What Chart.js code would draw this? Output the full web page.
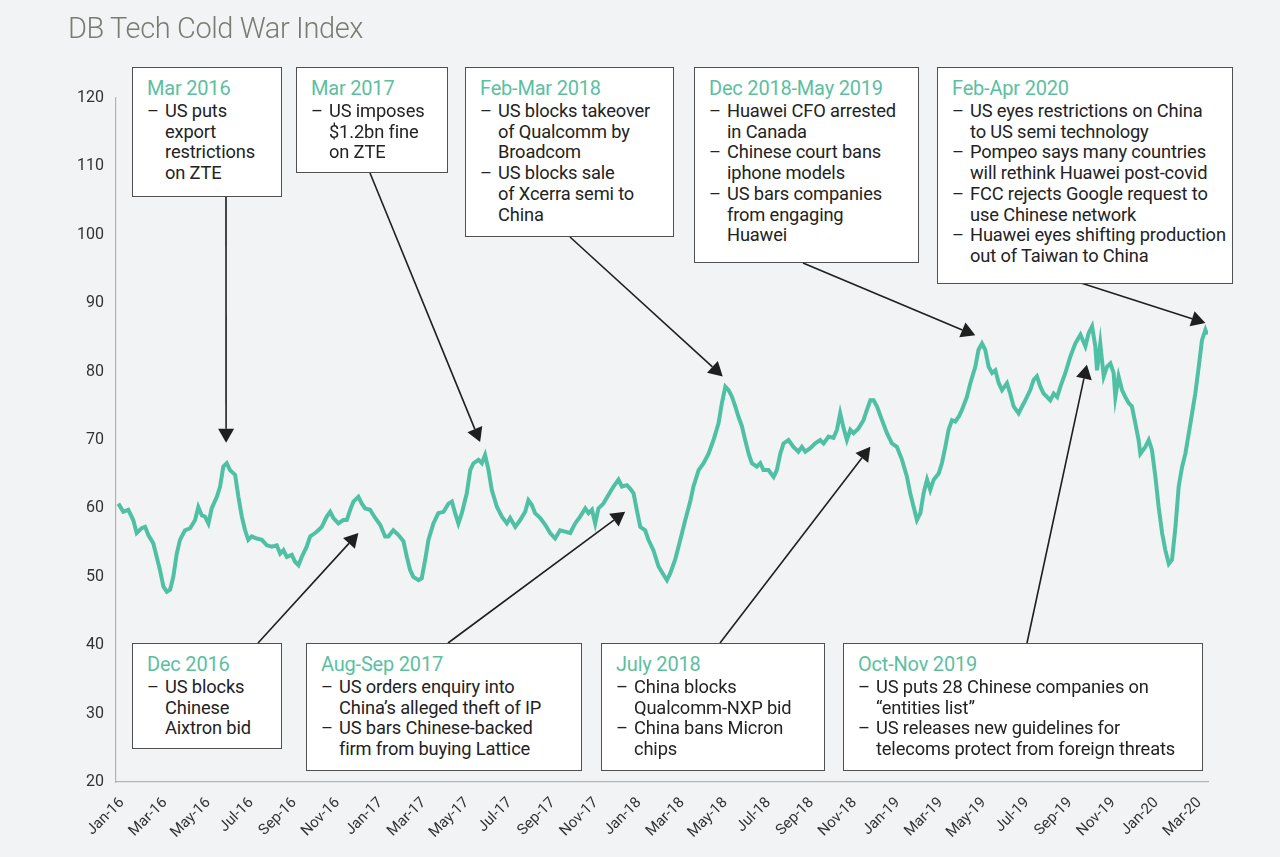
<!DOCTYPE html>
<html>
<head>
<meta charset="utf-8">
<script src="https://cdn.jsdelivr.net/npm/chart.js@4.4.1/dist/chart.umd.min.js"></script>
<style>
html, body { margin: 0; padding: 0; background: #f2f3f4; }
#wrap { position: relative; width: 1280px; height: 857px; overflow: hidden; font-family: Roboto, 'Liberation Sans', sans-serif; }
#title { position: absolute; left: 68px; top: 11px; font-size: 29px; color: #7b7b73; font-weight: 300; letter-spacing: -0.4px; }
canvas { position: absolute; left: 0; top: 0; }
.note { position: absolute; box-sizing: border-box; background: #fff; border: 1.5px solid #505050; padding: 9px 6px 0 14px; }
.note h4 { margin: 0 0 2px 0; font-weight: 400; font-size: 20px; line-height: 22px; color: #5cbf9f; white-space: nowrap; letter-spacing: -0.2px; }
.note p { margin: 0; position: relative; padding-left: 18px; font-size: 18.3px; line-height: 20.7px; color: #232323; white-space: nowrap; letter-spacing: -0.15px; }
.note p::before { content: '–'; position: absolute; left: 0; }
</style>
</head>
<body>
<div id="wrap">
  <canvas id="warChart" width="1280" height="857"></canvas>
  <div id="title">DB Tech Cold War Index</div>
</div>
<script>
// ── DATA ── (x = months since Jan 2016)
const months = [
  -0.17, 0.06, 0.29, 0.52, 0.68, 0.91, 1.07, 1.22, 1.45, 1.61, 1.76, 1.92, 2.08, 2.23, 2.38, 2.54, 2.69, 2.92,
  3.16, 3.39, 3.54, 3.70, 3.85, 4.01, 4.16, 4.40, 4.55, 4.70, 4.86, 5.01, 5.25, 5.40, 5.56, 5.71, 5.86, 6.02,
  6.25, 6.49, 6.72, 6.95, 7.18, 7.34, 7.49, 7.65, 7.88, 8.03, 8.19, 8.34, 8.57, 8.73, 8.96, 9.11, 9.27, 9.50,
  9.66, 9.81, 10.04, 10.27, 10.43, 10.59, 10.74, 10.97, 11.13, 11.28, 11.51, 11.75, 11.98, 12.21, 12.36, 12.59,
  12.83, 13.06, 13.22, 13.37, 13.52, 13.76, 13.91, 14.07, 14.22, 14.45, 14.68, 14.92, 15.15, 15.31, 15.46, 15.61,
  15.77, 16.00, 16.16, 16.31, 16.54, 16.70, 16.85, 17.01, 17.16, 17.40, 17.63, 17.86, 18.01, 18.25, 18.48, 18.71,
  18.86, 19.02, 19.17, 19.41, 19.64, 19.87, 20.10, 20.33, 20.57, 20.80, 21.03, 21.26, 21.50, 21.65, 21.81, 21.96,
  22.11, 22.34, 22.58, 22.81, 23.04, 23.20, 23.43, 23.58, 23.74, 23.89, 24.05, 24.28, 24.43, 24.66, 24.90, 25.13,
  25.29, 25.44, 25.67, 25.91, 26.14, 26.37, 26.52, 26.76, 26.99, 27.22, 27.45, 27.68, 27.84, 28.00, 28.15, 28.31,
  28.46, 28.61, 28.77, 28.92, 29.08, 29.23, 29.46, 29.62, 29.77, 30.00, 30.24, 30.39, 30.55, 30.70, 30.93, 31.16,
  31.39, 31.55, 31.71, 31.94, 32.17, 32.40, 32.56, 32.79, 33.02, 33.18, 33.33, 33.49, 33.64, 33.80, 33.95, 34.18,
  34.41, 34.57, 34.73, 34.88, 35.04, 35.27, 35.50, 35.73, 35.96, 36.20, 36.43, 36.58, 36.74, 36.89, 37.05, 37.20,
  37.36, 37.51, 37.67, 37.90, 38.05, 38.21, 38.36, 38.52, 38.67, 38.83, 38.98, 39.21, 39.37, 39.60, 39.75, 39.91,
  40.06, 40.22, 40.38, 40.53, 40.69, 40.84, 41.07, 41.22, 41.38, 41.61, 41.77, 41.92, 42.15, 42.31, 42.46, 42.62,
  42.77, 42.93, 43.08, 43.24, 43.40, 43.55, 43.78, 44.01, 44.24, 44.48, 44.71, 44.86, 45.02, 45.17, 45.25, 45.40,
  45.56, 45.71, 45.87, 46.02, 46.10, 46.25, 46.41, 46.56, 46.72, 46.87, 47.03, 47.18, 47.26, 47.49, 47.65, 47.80,
  47.96, 48.11, 48.27, 48.42, 48.58, 48.73, 48.89, 49.04, 49.20, 49.35, 49.51, 49.66, 49.81, 49.97, 50.12, 50.28, 50.36
];
const indexValues = [
  60.7, 59.5, 59.8, 58.3, 56.4, 57.1, 57.3, 56.1, 54.9, 52.9, 51.0, 48.6, 47.8, 48.1, 50.0, 53.4, 55.4, 56.8,
  57.1, 58.3, 60.2, 59.0, 58.8, 57.8, 60.0, 61.7, 63.2, 66.1, 66.6, 65.6, 64.9, 61.7, 58.8, 56.8, 55.4, 55.9,
  55.6, 55.4, 54.6, 54.4, 54.6, 53.4, 53.9, 52.9, 53.2, 52.2, 51.7, 52.9, 54.4, 55.9, 56.4, 56.8, 57.3, 58.8,
  59.5, 58.6, 57.8, 58.3, 58.3, 59.8, 61.0, 61.7, 60.7, 60.0, 59.8, 58.6, 57.6, 55.9, 55.9, 56.8,
  56.1, 55.2, 52.9, 51.0, 50.0, 49.5, 49.8, 52.5, 55.4, 57.8, 59.3, 59.5, 60.7, 61.0, 59.3, 57.8,
  59.3, 62.2, 65.6, 66.6, 67.1, 66.6, 67.8, 65.6, 62.7, 60.2, 58.8, 57.8, 58.6, 57.3, 58.3, 59.5,
  61.2, 60.5, 59.3, 58.6, 57.6, 56.4, 55.6, 56.8, 56.6, 56.4, 57.8, 58.8, 60.0, 59.3, 59.8, 57.8,
  60.0, 60.7, 62.0, 63.2, 64.2, 63.2, 63.4, 62.9, 62.2, 59.8, 57.3, 56.8, 55.4, 53.9, 51.5, 50.3,
  49.5, 50.5, 52.5, 55.4, 58.3, 61.0, 63.2, 65.6, 66.6, 68.0, 70.0, 72.4, 75.4, 77.8, 77.3, 76.3,
  74.9, 73.4, 72.0, 70.0, 68.0, 66.6, 66.1, 66.6, 65.6, 65.6, 64.6, 65.6, 68.0, 69.5, 70.0, 69.0,
  68.3, 69.0, 68.3, 68.8, 69.5, 70.0, 69.5, 70.5, 70.3, 71.5, 73.9, 71.7, 70.0, 71.5, 71.0, 71.7,
  72.9, 74.4, 75.8, 75.8, 74.9, 72.9, 71.0, 69.5, 69.0, 67.1, 64.6, 62.2, 60.2, 58.3, 59.3, 62.2,
  64.2, 62.7, 64.2, 65.1, 66.6, 69.0, 71.5, 72.9, 72.7, 73.4, 74.4, 76.3, 78.3, 80.7, 83.2, 84.1,
  83.2, 80.7, 79.8, 80.2, 78.3, 77.3, 78.3, 76.8, 74.9, 73.9, 74.9, 75.8, 77.3, 78.8, 79.3, 77.8,
  76.8, 76.3, 75.8, 76.8, 76.3, 77.8, 79.8, 82.2, 84.1, 85.4, 83.7, 85.6, 86.6, 83.7, 80.2, 84.1,
  79.3, 80.7, 81.2, 79.8, 76.3, 79.3, 77.3, 76.3, 75.4, 74.9, 72.4, 70.0, 68.0, 69.0, 70.0, 68.5,
  64.6, 60.2, 56.4, 53.9, 51.9, 52.5, 57.3, 63.2, 66.1, 68.0, 71.0, 73.9, 76.8, 80.7, 84.6, 86.1, 85.4
];
const tickLabels = [
  'Jan-16', 'Mar-16', 'May-16', 'Jul-16', 'Sep-16', 'Nov-16',
  'Jan-17', 'Mar-17', 'May-17', 'Jul-17', 'Sep-17', 'Nov-17',
  'Jan-18', 'Mar-18', 'May-18', 'Jul-18', 'Sep-18', 'Nov-18',
  'Jan-19', 'Mar-19', 'May-19', 'Jul-19', 'Sep-19', 'Nov-19',
  'Jan-20', 'Mar-20'
];

// ── ANNOTATIONS ── box = [left, top, width, height], from = arrow start (px), to = [month, index]
const notes = [
  { title: 'Mar 2016', lines: ['US puts\nexport\nrestrictions\non ZTE'], box: [132, 67, 150, 130], from: [226, 197], to: [4.83, 69.6] },
  { title: 'Mar 2017', lines: ['US imposes\n$1.2bn fine\non ZTE'], box: [296, 67, 152, 106], from: [370, 173], to: [16.62, 69.7] },
  { title: 'Feb-Mar 2018', lines: ['US blocks takeover\nof Qualcomm by\nBroadcom', 'US blocks sale\nof Xcerra semi to\nChina'], box: [465, 67, 209, 170], from: [570, 237], to: [27.88, 79.3] },
  { title: 'Dec 2018-May 2019', lines: ['Huawei CFO arrested\nin Canada', 'Chinese court bans\niphone models', 'US bars companies\nfrom engaging\nHuawei'], box: [694, 67, 225, 196], from: [803, 263], to: [39.6, 85.3] },
  { title: 'Feb-Apr 2020', lines: ['US eyes restrictions on China\nto US semi technology', 'Pompeo says many countries\nwill rethink Huawei post-covid', 'FCC rejects Google request to\nuse Chinese network', 'Huawei eyes shifting production\nout of Taiwan to China'], box: [937, 67, 296, 217], from: [1081, 283], to: [50.28, 87.1] },
  { title: 'Dec 2016', lines: ['US blocks\nChinese\nAixtron bid'], box: [132, 643, 150, 106], from: [258, 643], to: [10.97, 56.4] },
  { title: 'Aug-Sep 2017', lines: ['US orders enquiry into\nChina\u2019s alleged theft of IP', 'US bars Chinese-backed\nfirm from buying Lattice'], box: [306, 643, 276, 128], from: [448, 643], to: [23.35, 59.5] },
  { title: 'July 2018', lines: ['China blocks\nQualcomm-NXP bid', 'China bans Micron\nchips'], box: [601, 643, 224, 128], from: [720, 643], to: [34.73, 69.0] },
  { title: 'Oct-Nov 2019', lines: ['US puts 28 Chinese companies on\n\u201centities list\u201d', 'US releases new guidelines for\ntelecoms protect from foreign threats'], box: [843, 643, 360, 128], from: [1027, 643], to: [44.78, 81.0] }
];

const wrap = document.getElementById('wrap');
notes.forEach(n => {
  const d = document.createElement('div');
  d.className = 'note';
  d.style.left = n.box[0] + 'px';
  d.style.top = n.box[1] + 'px';
  d.style.width = n.box[2] + 'px';
  d.style.height = n.box[3] + 'px';
  let html = '<h4>' + n.title + '</h4>';
  n.lines.forEach(l => { html += '<p>' + l.split('\n').join('<br>') + '</p>'; });
  d.innerHTML = html;
  wrap.appendChild(d);
});

// ── ARROWS ──
const arrowPlugin = {
  id: 'arrows',
  afterDatasetsDraw(chart) {
    const { ctx, scales: { x, y } } = chart;
    ctx.save();
    ctx.strokeStyle = '#1f1f1f';
    ctx.fillStyle = '#1f1f1f';
    ctx.lineWidth = 1.6;
    notes.forEach(n => {
      const x0 = n.from[0], y0 = n.from[1];
      const x1 = x.getPixelForValue(n.to[0]), y1 = y.getPixelForValue(n.to[1]);
      const a = Math.atan2(y1 - y0, x1 - x0);
      const hl = 14, hw = 8;
      const bx = x1 - hl * Math.cos(a), by = y1 - hl * Math.sin(a);
      ctx.beginPath();
      ctx.moveTo(x0, y0);
      ctx.lineTo(bx, by);
      ctx.stroke();
      ctx.beginPath();
      ctx.moveTo(x1, y1);
      ctx.lineTo(bx + hw * Math.sin(a), by - hw * Math.cos(a));
      ctx.lineTo(bx - hw * Math.sin(a), by + hw * Math.cos(a));
      ctx.closePath();
      ctx.fill();
    });
    ctx.restore();
  }
};

// ── CHART ──
const ctx = document.getElementById('warChart').getContext('2d');
new Chart(ctx, {
  type: 'line',
  data: {
    datasets: [{
      label: 'DB Tech Cold War Index',
      data: months.map((m, i) => ({ x: m, y: indexValues[i] })),
      borderColor: '#4fc0a4',
      borderWidth: 4,
      pointRadius: 0,
      tension: 0,
      fill: false
    }]
  },
  options: {
    responsive: false,
    animation: false,
    layout: { padding: { top: 98, right: 72, left: 0, bottom: 0 } },
    plugins: { legend: { display: false }, tooltip: { enabled: false } },
    scales: {
      x: {
        type: 'linear', min: -0.28, max: 50.4,
        afterBuildTicks: s => { s.ticks = tickLabels.map((t, i) => ({ value: i * 2 })); },
        afterFit: s => { s.height = 75; },
        grid: { display: false, drawTicks: false },
        border: { display: true, color: '#b3b3b3', width: 1.2 },
        ticks: {
          autoSkip: false, minRotation: 45, maxRotation: 45, padding: 12,
          color: '#333', font: { family: 'Roboto', size: 15 },
          callback: (v, i) => tickLabels[i]
        }
      },
      y: {
        min: 20, max: 120,
        afterFit: s => { s.width = 116; },
        grid: { display: false, drawTicks: false },
        border: { display: true, color: '#b3b3b3', width: 1.2 },
        ticks: { stepSize: 10, padding: 12, color: '#333', font: { family: 'Roboto', size: 16 } }
      }
    }
  },
  plugins: [arrowPlugin]
});
</script>
</body>
</html>
